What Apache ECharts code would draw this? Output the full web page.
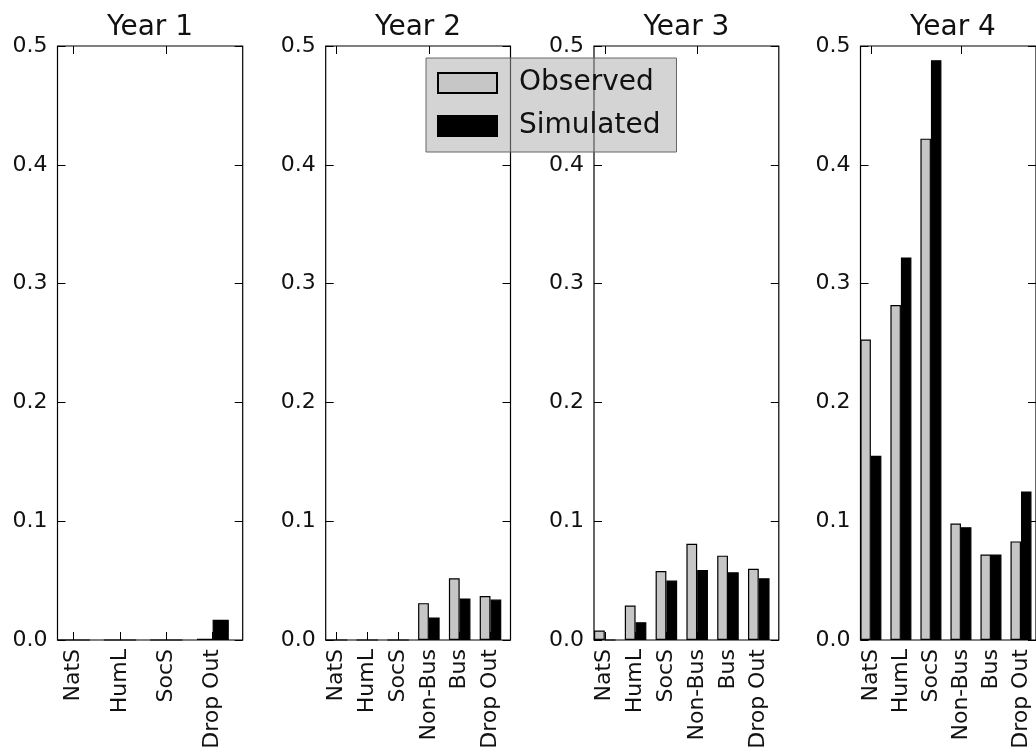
<!DOCTYPE html>
<html><head><meta charset="utf-8">
<script src="https://cdn.jsdelivr.net/npm/echarts@6/dist/echarts.min.js"></script>
<style>html,body{margin:0;padding:0;background:#fff}#c{width:1036px;height:756px}</style>
</head><body><div id="c"></div>
<script>
// ---- data ----
const titles = ['Year 1', 'Year 2', 'Year 3', 'Year 4'];
const categoriesYear1 = ['NatS', 'HumL', 'SocS', 'Drop Out'];
const categoriesLater = ['NatS', 'HumL', 'SocS', 'Non-Bus', 'Bus', 'Drop Out'];
const observedY1 = [0, 0, 0, 0.001];
const simulatedY1 = [0, 0, 0, 0.017];
const observedY2 = [0, 0, 0, 0.031, 0.052, 0.037];
const simulatedY2 = [0, 0, 0, 0.019, 0.035, 0.034];
const observedY3 = [0.008, 0.029, 0.058, 0.081, 0.071, 0.060];
const simulatedY3 = [0, 0.015, 0.050, 0.059, 0.057, 0.052];
const observedY4 = [0.253, 0.282, 0.422, 0.098, 0.072, 0.083];
const simulatedY4 = [0.155, 0.322, 0.488, 0.095, 0.072, 0.125];
const yMin = 0, yMax = 0.5, yStep = 0.1;
const seriesNames = ['Observed', 'Simulated'];

// ---- layout ----
const FONT = 'DejaVu Sans';
const TOP = 46, HEIGHT = 594;
const panels = [
  { title: titles[0], cats: categoriesYear1, obs: observedY1, sim: simulatedY1, left: 57.5, unit: 46.3 },
  { title: titles[1], cats: categoriesLater, obs: observedY2, sim: simulatedY2, left: 325.7, unit: 30.8 },
  { title: titles[2], cats: categoriesLater, obs: observedY3, sim: simulatedY3, left: 594, unit: 30.8 },
  { title: titles[3], cats: categoriesLater, obs: observedY4, sim: simulatedY4, left: 860.5, unit: 30.8 }
];

const grid = [], xAxis = [], yAxis = [], series = [], title = [];
const tickStyle = { color: '#000', width: 1 };
panels.forEach((p, k) => {
  const n = p.cats.length;
  const w = n * p.unit;
  // frame grid
  const fg = grid.length;
  grid.push({ left: p.left, top: TOP, width: w, height: HEIGHT, show: true, borderColor: '#000', borderWidth: 1.2, backgroundColor: 'transparent' });
  xAxis.push({ gridIndex: fg, type: 'value', min: 0, max: 1, show: false });
  yAxis.push({ gridIndex: fg, type: 'value', min: yMin, max: yMax, interval: yStep,
    axisLine: { show: false }, splitLine: { show: false },
    axisTick: { show: true, inside: true, length: 8, lineStyle: tickStyle },
    axisLabel: { formatter: v => v.toFixed(1), fontSize: 22, color: '#111', margin: 10, fontFamily: FONT } });
  yAxis.push({ gridIndex: fg, type: 'value', position: 'right', min: yMin, max: yMax, interval: yStep,
    axisLine: { show: false }, splitLine: { show: false },
    axisTick: { show: true, inside: true, length: 8, lineStyle: tickStyle },
    axisLabel: { show: false } });
  // bar grid shifted so tick sits between the pair
  const bg = grid.length;
  grid.push({ left: p.left - 0.15 * p.unit, top: TOP, width: w, height: HEIGHT });
  const xb = xAxis.length;
  xAxis.push({ gridIndex: bg, type: 'category', data: p.cats, position: 'bottom',
    axisLine: { show: false },
    axisTick: { show: true, inside: true, alignWithLabel: true, length: 8, lineStyle: tickStyle },
    axisLabel: { rotate: 90, interval: 0, fontSize: 22, color: '#111', margin: 9, fontFamily: FONT } });
  xAxis.push({ gridIndex: bg, type: 'category', data: p.cats, position: 'top',
    axisLine: { show: false },
    axisTick: { show: true, inside: true, alignWithLabel: true, length: 8, lineStyle: tickStyle },
    axisLabel: { show: false } });
  const yb = yAxis.length;
  yAxis.push({ gridIndex: bg, type: 'value', min: yMin, max: yMax, show: false, splitLine: { show: false } });
  series.push({ type: 'bar', name: seriesNames[0], xAxisIndex: xb, yAxisIndex: yb, data: p.obs,
    barWidth: '35%', barGap: '0%', itemStyle: { color: '#c6c6c6', borderColor: '#000', borderWidth: 1.2 } });
  series.push({ type: 'bar', name: seriesNames[1], xAxisIndex: xb, yAxisIndex: yb, data: p.sim,
    barWidth: '35%', barGap: '0%', itemStyle: { color: '#000', borderColor: '#000', borderWidth: 1.2 } });
  title.push({ text: p.title, left: p.left + w / 2, top: 14, textAlign: 'center', padding: 0,
    textStyle: { fontSize: 28, fontWeight: 'normal', color: '#111', fontFamily: FONT } });
});

const chart = echarts.init(document.getElementById('c'), null, { renderer: 'canvas' });
chart.setOption({
  animation: false,
  backgroundColor: '#fff',
  title, grid, xAxis, yAxis, series,
  legend: {
    data: seriesNames, orient: 'vertical', left: 426, top: 58,
    padding: [11, 16, 12, 11], itemWidth: 59, itemHeight: 20, itemGap: 15,
    backgroundColor: 'rgba(170,170,170,0.5)', borderColor: '#666', borderWidth: 1,
    selectedMode: false, icon: 'rect',
    textStyle: { fontSize: 28, color: '#111', fontFamily: FONT, padding: [0, 0, 0, 17] }
  }
});
</script></body></html>
